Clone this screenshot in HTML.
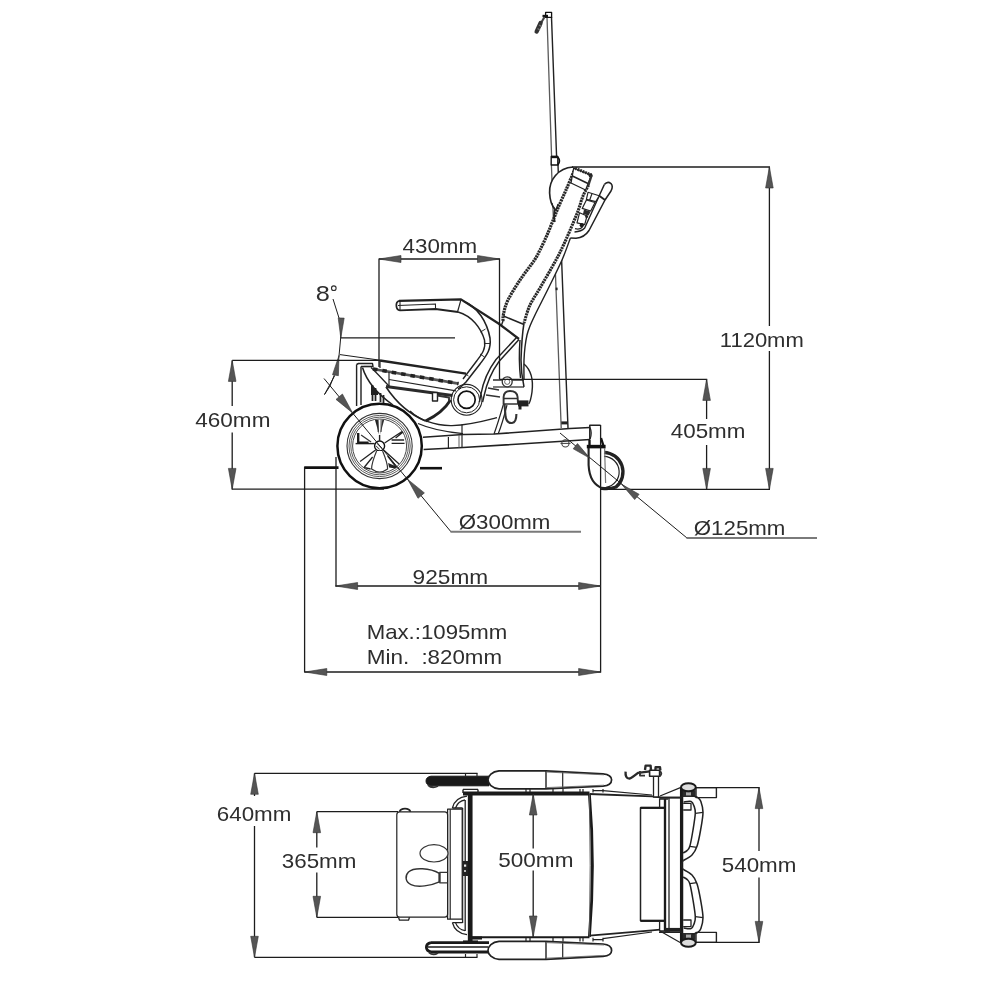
<!DOCTYPE html>
<html><head><meta charset="utf-8"><title>Dimensions</title>
<style>
html,body{margin:0;padding:0;background:#fff;}
body{width:1000px;height:1000px;overflow:hidden;font-family:"Liberation Sans",sans-serif;}
svg{display:block;will-change:transform;filter:grayscale(1);}
svg text{font-family:"Liberation Sans",sans-serif;}
</style></head><body>
<svg width="1000" height="1000" viewBox="0 0 1000 1000" stroke-linecap="butt" stroke-linejoin="round">
<rect width="1000" height="1000" fill="#fff"/>
<g id="side">
<polygon points="547,17 551.5,17 556.6,157 558,165 568,428 561.2,428 551.4,165 551.6,157" fill="#fff" stroke="none"/>
<path d="M547,17 L551.6,157 L551.4,165 L561.2,428" stroke="#5a5a5a" stroke-width="1.3" fill="none" />
<path d="M551.5,17 L556.6,157 L558,165 L568,428" stroke="#222" stroke-width="1.42" fill="none" />
<rect x="545.6" y="12.4" width="6" height="5" fill="#fff" stroke="#111" stroke-width="1.3"/>
<path d="M542.5,16 L548,16" stroke="#111" stroke-width="2.36" fill="none" />
<path d="M544.5,17 L541,23" stroke="#444" stroke-width="2.12" fill="none" />
<path d="M540.6,23 L536.6,31.6" stroke="#333" stroke-width="4.25" fill="none" stroke-linecap="round"/>
<path d="M539,25 L541.5,26.5 M537.5,28.5 L540,30" stroke="#777" stroke-width="1.42" fill="none" />
<rect x="551.2" y="156.5" width="6.6" height="8.5" fill="#fff" stroke="#111" stroke-width="1.3"/>
<path d="M557.8,157 Q561,161 557.8,165" stroke="#111" stroke-width="1.65" fill="none" />
<line x1="551.2" y1="157" x2="557.8" y2="157" stroke="#111" stroke-width="2.36" />
<rect x="555.6" y="287.6" width="2" height="2.6" fill="#222"/>
<rect x="561.3" y="421.4" width="6.4" height="3" fill="#222"/>
<circle cx="379.6" cy="446" r="42.2" fill="#fff" stroke="#111" stroke-width="2.5"/>
<circle cx="379.6" cy="446" r="32.6" fill="none" stroke="#333" stroke-width="1.1"/>
<circle cx="379.6" cy="446" r="30.6" fill="none" stroke="#333" stroke-width="0.8"/>
<circle cx="379.6" cy="446" r="28.8" fill="none" stroke="#333" stroke-width="0.8"/>
<circle cx="379.6" cy="446" r="27" fill="none" stroke="#333" stroke-width="0.9"/>
<circle cx="379.6" cy="446" r="5" fill="#fff" stroke="#111" stroke-width="1.4"/>
<path d="M377.1,443.5 L382.1,448.5 M376.1,446 L379.6,449.5" stroke="#444" stroke-width="1.06" fill="none" />
<path d="M379.6,441 L379.6,435" stroke="#222" stroke-width="1.42" fill="none" />
<polygon points="375.0,420 378.0,420 379.20000000000005,435" fill="#222"/>
<polygon points="384.20000000000005,420 382.20000000000005,420 380.0,435" fill="#333"/>
<path d="M378.1,420 L378.1,432 M381.1,420 L381.1,432" stroke="#333" stroke-width="0.94" fill="none" />
<path d="M384.6,443 L402.1,431.5 M391.6,443.4 L404.6,443.4 M391.6,440 L404.1,440 M395.6,438 L403.1,432" stroke="#222" stroke-width="1.3" fill="none" />
<path d="M374.6,443.6 L355.6,443.6" stroke="#222" stroke-width="1.42" fill="none" />
<path d="M358.20000000000005,433 L358.20000000000005,442.6 L368.6,442.6" stroke="#1a1a1a" stroke-width="2.36" fill="none" />
<path d="M361.1,435 L371.1,442" stroke="#333" stroke-width="1.18" fill="none" />
<path d="M383.6,450 L399.1,464 M387.6,456 L396.6,467.5" stroke="#222" stroke-width="1.3" fill="none" />
<polygon points="388.1,463 396.6,466.6 395.6,468.6 389.1,467.5" fill="#222"/>
<path d="M375.6,450 L360.1,461.5 M372.6,457 L364.1,467.5 M364.1,467.5 L370.6,469" stroke="#222" stroke-width="1.3" fill="none" />
<path d="M376.6,451 Q371.6,463 371.6,469 Q379.6,475 387.6,469 Q387.6,463 382.6,451" stroke="#333" stroke-width="1.18" fill="#fff" />
<line x1="304.2" y1="467.6" x2="338.5" y2="467.6" stroke="#111" stroke-width="2.83" />
<line x1="420" y1="468.2" x2="442" y2="468.2" stroke="#111" stroke-width="2.6" />
<path d="M356.6,406 L356.6,364.5 M361,405 L361,366.5 M356.6,364.5 L358.5,363.5 L372.5,363.5 L373,366.5 L361,366.5" stroke="#222" stroke-width="1.42" fill="none" />
<path d="M372.5,385 L372.5,401 M375.5,388 L375.5,401 M380.5,393 L380.5,402 M383.5,395 L383.5,403" stroke="#222" stroke-width="1.77" fill="none" />
<polygon points="371,384 378,392 378,395 371,395" fill="#222"/>
<path d="M362.5,367.5 C366,379 376,393 393,405" stroke="#222" stroke-width="1.53" fill="none" />
<path d="M371,367.5 C378,374 384,381 389,386" stroke="#222" stroke-width="1.3" fill="none" />
<path d="M364,366.5 L373,366.5" stroke="#222" stroke-width="1.18" fill="none" />
<path d="M386,387 C392,396 404,412 425.5,421" stroke="#222" stroke-width="1.53" fill="none" />
<path d="M425.5,421 C436,416 445,409 450.5,400" stroke="#222" stroke-width="2.83" fill="none" />
<path d="M410,411 C418,419 434,426 452,425.6 C470,425 484,421 497,417.6" stroke="#222" stroke-width="1.42" fill="none" />
<path d="M418,423.5 C428,428 446,432 463,433.6" stroke="#222" stroke-width="1.3" fill="none" />
<line x1="380" y1="360.5" x2="466" y2="373.6" stroke="#222" stroke-width="2.36" />
<line x1="373" y1="369" x2="458.5" y2="383.6" stroke="#555" stroke-width="2.6" />
<line x1="373" y1="369" x2="458.5" y2="383.6" stroke="#222" stroke-width="3.54" stroke-dasharray="4.5 5"/>
<line x1="389" y1="379.5" x2="456" y2="390.8" stroke="#222" stroke-width="1.18" />
<line x1="386" y1="386.6" x2="452.5" y2="395.6" stroke="#2a2a2a" stroke-width="3.07" />
<line x1="389" y1="372" x2="389" y2="386" stroke="#222" stroke-width="1.18" />
<line x1="380" y1="361" x2="380" y2="368" stroke="#222" stroke-width="1.18" />
<rect x="432.5" y="392.5" width="5" height="8.5" fill="#fff" stroke="#222" stroke-width="1.4"/>
<path d="M437,395.5 L449,397.5 L449,401" stroke="#333" stroke-width="1.89" fill="none" />
<path d="M423,437.2 L463,434.6 L494,434 L570,428.6 L590,427.6" stroke="#222" stroke-width="1.53" fill="none" />
<path d="M423.6,449.6 L463,447.6 L590,439.6" stroke="#222" stroke-width="1.53" fill="none" />
<line x1="448.4" y1="437" x2="448.4" y2="448.4" stroke="#222" stroke-width="1.18" />
<line x1="462" y1="424.6" x2="462" y2="447.6" stroke="#222" stroke-width="1.18" />
<line x1="459" y1="434.8" x2="459" y2="447.8" stroke="#555" stroke-width="0.94" />
<path d="M503.5,404 C500,416 497,426 494,434 M507,405 C504,417 501,427 498.2,433.8" stroke="#222" stroke-width="1.18" fill="none" />
<path d="M399,300.8 Q396,302 396.4,306 Q396.6,310 400,310.4 L435.5,309 L458,312" stroke="#222" stroke-width="1.77" fill="none" />
<path d="M399,300.8 L461,299.4 L498.5,323.5 L519,339" stroke="#222" stroke-width="2.24" fill="none" />
<path d="M398,305.5 L436,304 M435.5,304 L435.5,309 M400,301 L400,310" stroke="#222" stroke-width="1.06" fill="none" />
<path d="M461,299.6 L457.5,312" stroke="#222" stroke-width="1.18" fill="none" />
<path d="M463,301 C478,307 487,322 490,338 C491.5,350 486,356 480,364 L466,382 C462,386 460,388 458,389" stroke="#222" stroke-width="1.53" fill="none" />
<path d="M458,312 C472,316 481,328 484.5,340 C486,349 482,354 477,360.5 L463,379" stroke="#222" stroke-width="1.42" fill="none" />
<path d="M485.5,329 L480.5,332 M490,343.5 L485,343.5 M484.5,357 L480,354 M468.5,376 L465,373.5" stroke="#222" stroke-width="0.94" fill="none" />
<path d="M519,339.5 L499,361.5 C492,371 487,382 484,396 L482.6,402" stroke="#222" stroke-width="1.42" fill="none" />
<path d="M516.5,337.5 L496,359.5 C489,369 483.5,380 481,394 L479.4,402" stroke="#222" stroke-width="1.42" fill="none" />
<circle cx="466.6" cy="399.8" r="15.4" fill="none" stroke="#222" stroke-width="1.1"/>
<circle cx="466.6" cy="399.8" r="13" fill="none" stroke="#222" stroke-width="1.0"/>
<circle cx="466.6" cy="399.8" r="8.6" fill="#fff" stroke="#111" stroke-width="1.7"/>
<path d="M574.0,171.0 C572.7,174.2 568.7,183.8 566.0,190.0 C563.3,196.2 560.0,203.3 558.0,208.0 C556.0,212.7 555.8,213.7 554.0,218.0 C552.2,222.3 549.8,228.7 547.5,234.0 C545.2,239.3 542.2,245.7 540.0,250.0 C537.8,254.3 537.8,255.0 534.5,260.0 C531.2,265.0 524.4,273.3 520.0,280.0 C515.6,286.7 510.8,294.3 508.0,300.0 C505.2,305.7 504.3,310.5 503.5,314.0 C502.7,317.5 503.1,319.8 503.0,321.0 L524,324.5 L527,335 L527,335 L530,326 L535,315 L542,301 L550,285 L562,260 L570.4,238 L571,228 L578,211 L583,196 L588.6,185 Z" stroke="none" stroke-width="0.0" fill="#fff" />
<path d="M573,167 C558,168 549,180 549.6,193 C550,202 552,206 555,209 L556,216 L574,171 Z" stroke="none" stroke-width="0.0" fill="#fff" />
<path d="M574.0,171.0 C572.7,174.2 568.7,183.8 566.0,190.0 C563.3,196.2 560.0,203.3 558.0,208.0 C556.0,212.7 555.8,213.7 554.0,218.0 C552.2,222.3 549.8,228.7 547.5,234.0 C545.2,239.3 542.2,245.7 540.0,250.0 C537.8,254.3 537.8,255.0 534.5,260.0 C531.2,265.0 524.4,273.3 520.0,280.0 C515.6,286.7 510.8,294.3 508.0,300.0 C505.2,305.7 504.3,310.5 503.5,314.0 C502.7,317.5 503.1,319.8 503.0,321.0" stroke="#2a2a2a" stroke-width="3.19" fill="none" stroke-dasharray="2.1 0.7"/>
<path d="M588.6,185.0 C587.7,186.8 584.8,191.7 583.0,196.0 C581.2,200.3 580.0,205.7 578.0,211.0 C576.0,216.3 573.4,222.3 571.0,228.0 C568.6,233.7 566.0,239.7 563.5,245.0 C561.0,250.3 559.9,252.8 556.0,260.0 C552.1,267.2 544.3,280.5 540.0,288.0 C535.7,295.5 532.7,299.2 530.0,305.0 C527.3,310.8 525.0,320.0 524.0,323.0" stroke="#2a2a2a" stroke-width="3.07" fill="none" stroke-dasharray="2.1 0.7"/>
<path d="M570.4,238.0 C569.0,241.7 565.4,252.2 562.0,260.0 C558.6,267.8 553.3,278.2 550.0,285.0 C546.7,291.8 544.5,296.0 542.0,301.0 C539.5,306.0 537.0,310.8 535.0,315.0 C533.0,319.2 531.3,322.7 530.0,326.0 C528.7,329.3 527.8,331.5 527.0,335.0 C526.2,338.5 525.5,342.8 525.0,347.0 C524.5,351.2 524.2,354.5 524.0,360.0 C523.8,365.5 524.0,376.7 524.0,380.0" stroke="#222" stroke-width="1.42" fill="none" />
<path d="M503.5,316 L524,324.5" stroke="#222" stroke-width="1.42" fill="none" />
<path d="M503,321 L501.5,325" stroke="#222" stroke-width="1.42" fill="none" />
<path d="M524,323 C522.5,332 521.5,345 521,360 C521,370 522.5,380 524,387" stroke="#222" stroke-width="1.53" fill="none" />
<path d="M520,340 C519,352 519,364 520.5,378" stroke="#222" stroke-width="1.42" fill="none" />
<path d="M524,364 C531,370 533.5,380 532,392 C531,399 530,402 528.8,404" stroke="#222" stroke-width="1.42" fill="none" />
<path d="M573,167 C558,168 549,180 549.6,193 C550,202 552,206 555,209 C554,214 553.5,218 555,222" stroke="#222" stroke-width="1.65" fill="none" />
<path d="M552,203 Q553,209 556,210 L558,204" stroke="#222" stroke-width="1.18" fill="none" />
<polygon points="573.7,168 591.5,175 585.6,190 571,183" fill="#fff" stroke="#222" stroke-width="1.3"/>
<path d="M572.4,176 L589,184" stroke="#222" stroke-width="1.53" fill="none" />
<path d="M575,168.3 L591.5,175" stroke="#2a2a2a" stroke-width="3.07" fill="none" stroke-dasharray="1.9 0.8"/>
<circle cx="590.6" cy="175.6" r="2" fill="#222"/>
<path d="M591.5,175.5 L588.5,185" stroke="#333" stroke-width="2.36" fill="none" />
<path d="M604.3,184.6 Q607.5,180.8 611,183.6 Q613.5,186.5 611,191 L605,200 L589,230.5 Q584.5,237.5 576,238.2 L570.3,238" stroke="#222" stroke-width="1.53" fill="none" />
<path d="M604.3,184.6 L599.2,195.7 L584.7,228 Q581.5,231.5 574.5,232" stroke="#222" stroke-width="1.42" fill="none" />
<path d="M599.2,195.7 L605,200" stroke="#222" stroke-width="1.89" fill="none" />
<polygon points="588,192.3 599.2,195.7 595.8,201.6 586.4,199.4" fill="#fff" stroke="#222" stroke-width="1.2"/>
<path d="M592,193.6 L589.6,200.2" stroke="#222" stroke-width="1.18" fill="none" />
<polygon points="586.4,200 595,202.5 590.7,211 582.2,208.4" fill="#fff" stroke="#222" stroke-width="1.2"/>
<polygon points="584,209.4 590.6,211.4 588.6,215.6 583,214" fill="#2a2a2a"/>
<polygon points="579.6,212.7 587,216 584.7,224.6 577,222.9" fill="#fff" stroke="#222" stroke-width="1.2"/>
<circle cx="586.6" cy="216.4" r="1.5" fill="#222"/><circle cx="581.8" cy="225.2" r="2.1" fill="#1a1a1a"/>
<path d="M575,228.6 Q579.5,230 582.5,227" stroke="#222" stroke-width="1.3" fill="none" />
<line x1="493" y1="380" x2="524" y2="380" stroke="#222" stroke-width="1.42" />
<line x1="493" y1="387" x2="524" y2="387" stroke="#222" stroke-width="1.18" />
<circle cx="507.2" cy="381.8" r="5" fill="#fff" stroke="#333" stroke-width="1.3"/>
<circle cx="507.2" cy="381.8" r="2.6" fill="none" stroke="#555" stroke-width="0.9"/>
<path d="M488,388 L499,390 M486,395 L500,397" stroke="#333" stroke-width="1.53" fill="none" />
<path d="M503.6,404 L503.6,397 Q504,391 510,391 Q517,391 517.6,397 L518,404" stroke="#333" stroke-width="1.89" fill="none" />
<path d="M504,398.5 L518,398.5 M504,404 L518,404" stroke="#333" stroke-width="1.3" fill="none" />
<path d="M504.5,404 L505.6,417 Q507,423.5 512,423 Q516.4,422.5 516.4,414" stroke="#333" stroke-width="2.12" fill="none" />
<rect x="518" y="400.4" width="10.5" height="6" fill="#222"/>
<rect x="518.5" y="406" width="3" height="3.5" fill="#222"/>
<path d="M589.8,439 L589.8,425.2 L600.6,425.2" stroke="#222" stroke-width="1.53" fill="none" />
<path d="M590,427.6 Q592.5,433 590,439.6" stroke="#222" stroke-width="1.18" fill="none" />
<line x1="586.8" y1="446.6" x2="605.6" y2="446.6" stroke="#111" stroke-width="3.54" />
<path d="M589.5,440 L589.5,446 M601,438 L603.5,446" stroke="#111" stroke-width="2.36" fill="none" />
<path d="M588.6,448 L588.6,465 Q589.5,484 603,488.4" stroke="#222" stroke-width="2.12" fill="none" />
<path d="M604,456.4 A15.6,15.6 0 0 1 606,487.4" stroke="#222" stroke-width="1.18" fill="none" />
<path d="M604,452.4 A19.6,19.6 0 0 1 616,487 Q610,489.2 602,488.4" stroke="#222" stroke-width="3.3" fill="none" />
<line x1="604.6" y1="448" x2="605.6" y2="483" stroke="#777" stroke-width="1.18" />
<circle cx="565.4" cy="443.4" r="3.6" fill="none" stroke="#444" stroke-width="1.1"/>
<line x1="560.5" y1="443.4" x2="570.5" y2="443.4" stroke="#444" stroke-width="1.06" />
</g>
<g id="topview">
<path d="M431,776.2 L489,776.2 L489,785.8 L431,785.8 Q426,785 426,781 Q426,777 431,776.2 Z" stroke="#111" stroke-width="0.94" fill="#1a1a1a" />
<path d="M428,785 Q432,789 438,786" stroke="#333" stroke-width="1.89" fill="none" />
<line x1="465.5" y1="773.3" x2="465.5" y2="776.2" stroke="#222" stroke-width="1.18" />
<line x1="477" y1="773.3" x2="477" y2="776.2" stroke="#222" stroke-width="1.18" />
<path d="M431,942.6 L489,942.6 M431,952 L489,952 M431,942.6 Q426.4,943.5 426.4,947.3 Q426.4,951 431,952" stroke="#1a1a1a" stroke-width="2.83" fill="none" />
<line x1="428" y1="947" x2="488" y2="947" stroke="#1a1a1a" stroke-width="1.65" />
<path d="M429,952.6 Q433,956 438,953" stroke="#333" stroke-width="1.65" fill="none" />
<line x1="465.5" y1="957.3" x2="465.5" y2="954" stroke="#222" stroke-width="1.18" />
<line x1="477" y1="957.3" x2="477" y2="954" stroke="#222" stroke-width="1.18" />
<path d="M499,770.8 L546,770.8 L603,773.8 C609,774.4 611.6,776.8 611.6,779.8 C611.6,782.8 609,785.5999999999999 603,786.1999999999999 L546,788.8 L499,788.8 C492,788.1999999999999 488,783.8 488,779.8 C488,775.8 492,771.4 499,770.8 Z" fill="#fff" stroke="#222" stroke-width="1.7"/>
<line x1="546" y1="770.8" x2="546" y2="788.8" stroke="#222" stroke-width="1.42" />
<line x1="562.7" y1="771.5999999999999" x2="562.7" y2="788.1999999999999" stroke="#222" stroke-width="1.18" />
<line x1="546" y1="772.0" x2="604" y2="774.8" stroke="#666" stroke-width="0.83" />
<line x1="546" y1="787.5999999999999" x2="604" y2="785.1999999999999" stroke="#666" stroke-width="0.83" />
<path d="M499,959.4 L546,959.4 L603,956.4 C609,955.8 611.6,953.4 611.6,950.4 C611.6,947.4 609,944.6 603,944.0 L546,941.4 L499,941.4 C492,942.0 488,946.4 488,950.4 C488,954.4 492,958.8 499,959.4 Z" fill="#fff" stroke="#222" stroke-width="1.7"/>
<line x1="546" y1="959.4" x2="546" y2="941.4" stroke="#222" stroke-width="1.42" />
<line x1="562.7" y1="958.6" x2="562.7" y2="942.0" stroke="#222" stroke-width="1.18" />
<line x1="546" y1="958.1999999999999" x2="604" y2="955.4" stroke="#666" stroke-width="0.83" />
<line x1="546" y1="942.6" x2="604" y2="945.0" stroke="#666" stroke-width="0.83" />
<path d="M526,789 L526,792.6 M530,789 L530,792.6" stroke="#222" stroke-width="1.18" fill="none" />
<path d="M526,941.4 L526,937.8 M530,941.4 L530,937.8" stroke="#222" stroke-width="1.18" fill="none" />
<path d="M553,789 L553,792.6 M563,789 L563,792.6" stroke="#222" stroke-width="1.18" fill="none" />
<path d="M553,941.4 L553,937.8 M563,941.4 L563,937.8" stroke="#222" stroke-width="1.18" fill="none" />
<path d="M580,789 L580,792.6 M583,789 L583,792.6" stroke="#222" stroke-width="1.18" fill="none" />
<path d="M580,941.4 L580,937.8 M583,941.4 L583,937.8" stroke="#222" stroke-width="1.18" fill="none" />
<path d="M593,789 L593,792.6 M603,789 L603,792.6" stroke="#222" stroke-width="1.18" fill="none" />
<path d="M593,941.4 L593,937.8 M603,941.4 L603,937.8" stroke="#222" stroke-width="1.18" fill="none" />
<path d="M593,790.6 L603,790.6 M593,939.6 L603,939.6" stroke="#222" stroke-width="1.18" fill="none" />
<rect x="470" y="794" width="119" height="143" fill="#fff" stroke="none"/>
<line x1="463" y1="793.6" x2="589.5" y2="793.6" stroke="#1a1a1a" stroke-width="4.01" />
<line x1="470.2" y1="792" x2="470.2" y2="941" stroke="#1a1a1a" stroke-width="4.72" />
<line x1="470" y1="937.2" x2="589.5" y2="937.2" stroke="#1a1a1a" stroke-width="1.89" />
<line x1="470" y1="938" x2="482" y2="938" stroke="#1a1a1a" stroke-width="3.07" />
<path d="M463,789.4 L478,789.4 M463,789.4 L463,793 M478,789.4 L478,793" stroke="#222" stroke-width="1.42" fill="none" />
<path d="M463,941.6 L478,941.6" stroke="#1a1a1a" stroke-width="2.36" fill="none" />
<path d="M462.6,808 L462.6,923 M465.2,800 L465.2,931" stroke="#222" stroke-width="1.3" fill="none" />
<path d="M452.4,808 Q455,797.5 467,796.2 M455.5,808 Q458,801 465,800" stroke="#222" stroke-width="1.3" fill="none" />
<path d="M452.4,922.6 Q455,933 467,934.6 M455.5,922.6 Q458,929.5 465,930.6" stroke="#222" stroke-width="1.3" fill="none" />
<rect x="462.4" y="861" width="5.8" height="15" fill="#222"/>
<rect x="464" y="864.5" width="2.2" height="2.2" fill="#eee"/><rect x="464" y="870" width="2" height="2" fill="#bbb"/>
<path d="M452.4,808 L462.6,808 M452.4,922.6 L462.6,922.6" stroke="#222" stroke-width="1.3" fill="none" />
<rect x="447.6" y="809.2" width="14.6" height="110" fill="#fff" stroke="#222" stroke-width="1.2"/>
<line x1="450.2" y1="809.2" x2="450.2" y2="919.2" stroke="#222" stroke-width="1.18" />
<rect x="396.8" y="811.8" width="50.8" height="105.4" rx="3" ry="3" fill="#fff" stroke="#222" stroke-width="1.2"/>
<path d="M399.5,811.8 Q400.5,808.6 405,808.6 Q409.5,808.6 410.5,811.8" stroke="#222" stroke-width="1.65" fill="none" />
<path d="M398.5,917.2 L399.5,920.2 L408.5,920.2 L409.5,917.2" stroke="#222" stroke-width="1.3" fill="none" />
<ellipse cx="434" cy="853.3" rx="14" ry="8.7" fill="#fff" stroke="#333" stroke-width="1.2"/>
<path d="M439.4,873.4 C430,868 414,867 408.5,872 C404.5,876 405.5,882 411,884.6 C418,888 431,885.6 439.4,881.8 Z" stroke="#333" stroke-width="1.42" fill="#fff" />
<path d="M439.4,872.4 L447.6,872.4 M439.4,882.8 L447.6,882.8" stroke="#333" stroke-width="1.3" fill="none" />
<line x1="439.6" y1="872.4" x2="439.6" y2="882.8" stroke="#333" stroke-width="2.12" />
<path d="M589.4,794 Q595.4,865.5 589.4,937" stroke="#1a1a1a" stroke-width="2.83" fill="none" />
<path d="M589.4,794 Q591,865 589.4,937" stroke="#555" stroke-width="0.94" fill="none" />
<path d="M589.5,794 L652,796.4 L660,797.4" stroke="#222" stroke-width="1.77" fill="none" />
<path d="M603,790.6 L652,795" stroke="#222" stroke-width="1.06" fill="none" />
<path d="M589.5,935.6 L652,930.4 L660,929.6" stroke="#222" stroke-width="1.77" fill="none" />
<path d="M603,938.6 L652,932" stroke="#222" stroke-width="1.06" fill="none" />
<rect x="640.5" y="807.8" width="24.5" height="113" fill="#fff" stroke="#222" stroke-width="1.5"/>
<line x1="640.5" y1="807.8" x2="665" y2="807.8" stroke="#1a1a1a" stroke-width="2.24" />
<line x1="640.5" y1="920.8" x2="665" y2="920.8" stroke="#1a1a1a" stroke-width="2.24" />
<line x1="665" y1="799" x2="665" y2="931" stroke="#1a1a1a" stroke-width="2.36" />
<path d="M669,797.6 L669,933 M659.6,799 L668,799 M659.6,799 L659.6,808 M659.6,931 L668,931 M659.6,931 L659.6,921" stroke="#222" stroke-width="1.3" fill="none" />
<line x1="681.6" y1="788" x2="681.6" y2="942" stroke="#1a1a1a" stroke-width="3.3" />
<line x1="659" y1="797.6" x2="682" y2="797.6" stroke="#222" stroke-width="2.12" />
<line x1="659" y1="932.2" x2="682" y2="932.2" stroke="#222" stroke-width="1.65" />
<line x1="665" y1="929.8" x2="681" y2="929.8" stroke="#222" stroke-width="3.78" />
<path d="M660,796 L681,787.4 M660,931 L681,943" stroke="#222" stroke-width="1.18" fill="none" />
<rect x="696" y="787.6" width="20.4" height="10" fill="#fff" stroke="#222" stroke-width="1.4"/>
<rect x="682.6" y="790.2" width="13" height="6.8" fill="#2a2a2a"/>
<rect x="686" y="792.2" width="5" height="3.2" fill="#aaa"/>
<ellipse cx="688.4" cy="787.2" rx="7.4" ry="4" fill="#ddd" stroke="#1a1a1a" stroke-width="2"/>
<rect x="696" y="932.4" width="20.4" height="10" fill="#fff" stroke="#222" stroke-width="1.4"/>
<rect x="682.6" y="933.0" width="13" height="6.8" fill="#2a2a2a"/>
<rect x="686" y="934.6" width="5" height="3.2" fill="#aaa"/>
<ellipse cx="688.4" cy="942.8" rx="7.4" ry="4" fill="#ddd" stroke="#1a1a1a" stroke-width="2"/>
<path d="M692.0,795.7 C692.9,796.0 696.0,796.5 697.5,797.4 C699.0,798.3 699.9,798.7 700.8,801.2 C701.7,803.7 703.0,807.4 703.0,812.2 C703.0,817.0 701.6,824.3 700.6,830.0 C699.6,835.7 698.4,842.1 697.0,846.3 C695.6,850.5 694.3,852.6 692.0,855.0 C689.7,857.4 684.7,859.7 683.2,860.6" stroke="#222" stroke-width="1.53" fill="none" />
<path d="M683.6,802.0 C684.8,801.9 689.3,800.7 691.0,801.4 C692.7,802.1 693.3,804.0 694.0,806.0 C694.7,808.0 695.5,809.3 695.3,813.3 C695.1,817.3 693.9,824.5 693.0,830.0 C692.1,835.5 690.8,842.9 689.8,846.3 C688.8,849.7 688.1,849.5 687.0,850.6 C685.9,851.7 683.8,852.6 683.2,853.0" stroke="#222" stroke-width="1.53" fill="none" />
<path d="M692.0,934.3 C692.9,934.0 696.0,933.5 697.5,932.6 C699.0,931.7 699.9,931.3 700.8,928.8 C701.7,926.3 703.0,922.6 703.0,917.8 C703.0,913.0 701.6,905.7 700.6,900.0 C699.6,894.3 698.4,887.9 697.0,883.7 C695.6,879.5 694.3,877.4 692.0,875.0 C689.7,872.6 684.7,870.3 683.2,869.4" stroke="#222" stroke-width="1.53" fill="none" />
<path d="M683.6,928.0 C684.8,928.1 689.3,929.3 691.0,928.6 C692.7,927.9 693.3,926.0 694.0,924.0 C694.7,922.0 695.5,920.7 695.3,916.7 C695.1,912.7 693.9,905.5 693.0,900.0 C692.1,894.5 690.8,887.1 689.8,883.7 C688.8,880.3 688.1,880.5 687.0,879.4 C685.9,878.3 683.8,877.4 683.2,877.0" stroke="#222" stroke-width="1.53" fill="none" />
<path d="M683.2,803.4 L691,803.4 L691,810 L683.2,810 M683.2,926.6 L691,926.6 L691,920 L683.2,920" stroke="#222" stroke-width="1.3" fill="none" />
<path d="M695.3,813.3 L703,812.4 M689.8,846.3 L697,847.4 M695.3,916.7 L703,917.6 M689.8,883.7 L697,882.6" stroke="#222" stroke-width="1.18" fill="none" />
<path d="M683.2,860.6 Q681.4,863 681.4,865 Q681.4,867 683.2,869.4" stroke="#222" stroke-width="1.3" fill="none" />
<rect x="653.5" y="776" width="5" height="21" fill="#fff" stroke="#222" stroke-width="1.3"/>
<path d="M625.6,771.6 Q625,778.4 629.4,778.6 Q632,777.6 638,772.8 L650,771.4" stroke="#2a2a2a" stroke-width="2.36" fill="none" />
<rect x="649.6" y="770.2" width="10" height="6" fill="#fff" stroke="#222" stroke-width="1.6"/>
<path d="M645,770 L645.6,765.6 L650.6,765.6 L651,770 M655.4,770 L655.6,767.2 L660,767.2 L660.4,770.4" stroke="#2a2a2a" stroke-width="2.36" fill="none" />
<path d="M659.6,771 Q663,773.5 659.6,776.4 M640,771 L640,775.6 L645,775.6" stroke="#333" stroke-width="1.89" fill="none" />
</g>
<g id="dims">
<line x1="379" y1="259" x2="499.5" y2="259" stroke="#1c1c1c" stroke-width="1.3" />
<line x1="379" y1="258.4" x2="379" y2="367" stroke="#1c1c1c" stroke-width="1.3" />
<line x1="499.5" y1="258.4" x2="499.5" y2="379" stroke="#1c1c1c" stroke-width="1.3" />
<polygon points="379.0,259.0 401.0,262.5 401.0,255.5" fill="#555" stroke="#333" stroke-width="0.6"/>
<polygon points="499.5,259.0 477.5,255.5 477.5,262.5" fill="#555" stroke="#333" stroke-width="0.6"/>
<text x="402.5" y="252.6" font-size="21" fill="#2e2e2e" text-anchor="start" textLength="74.6" lengthAdjust="spacingAndGlyphs">430mm</text>
<text x="315.8" y="301.4" font-size="21.5" fill="#2e2e2e" text-anchor="start" textLength="14.1" lengthAdjust="spacingAndGlyphs">8</text>
<circle cx="333.8" cy="288.2" r="2.3" fill="none" stroke="#2e2e2e" stroke-width="1.1"/>
<line x1="333" y1="299" x2="339" y2="318" stroke="#1c1c1c" stroke-width="1.0" />
<path d="M341,318 Q341.5,337 339,356 Q337,372 330,386 L324.5,394.5" stroke="#1c1c1c" stroke-width="1.0" fill="none" />
<polygon points="340.8,338.0 344.2,318.1 338.2,317.9" fill="#555" stroke="#333" stroke-width="0.6"/>
<polygon points="339.0,355.5 332.5,374.7 338.4,375.7" fill="#555" stroke="#333" stroke-width="0.6"/>
<line x1="340.5" y1="337.8" x2="455" y2="337.8" stroke="#1c1c1c" stroke-width="1.3" />
<line x1="340" y1="354.6" x2="380" y2="360.2" stroke="#1c1c1c" stroke-width="1.0" />
<line x1="232.2" y1="360.4" x2="380" y2="360.4" stroke="#1c1c1c" stroke-width="1.3" />
<line x1="232.2" y1="489.2" x2="384" y2="489.2" stroke="#1c1c1c" stroke-width="1.3" />
<line x1="232.2" y1="360.4" x2="232.2" y2="406" stroke="#1c1c1c" stroke-width="1.3" />
<line x1="232.2" y1="432.5" x2="232.2" y2="489.4" stroke="#1c1c1c" stroke-width="1.3" />
<polygon points="232.2,360.4 228.4,381.4 236.0,381.4" fill="#555" stroke="#333" stroke-width="0.6"/>
<polygon points="232.2,489.4 236.0,468.4 228.4,468.4" fill="#555" stroke="#333" stroke-width="0.6"/>
<text x="195.3" y="427.1" font-size="21" fill="#2e2e2e" text-anchor="start" textLength="75.1" lengthAdjust="spacingAndGlyphs">460mm</text>
<line x1="572" y1="167" x2="770" y2="167" stroke="#1c1c1c" stroke-width="1.3" />
<line x1="769.4" y1="167" x2="769.4" y2="326" stroke="#1c1c1c" stroke-width="1.3" />
<line x1="769.4" y1="351" x2="769.4" y2="489.4" stroke="#1c1c1c" stroke-width="1.3" />
<polygon points="769.4,167.0 765.6,188.0 773.2,188.0" fill="#555" stroke="#333" stroke-width="0.6"/>
<polygon points="769.4,489.4 773.2,468.4 765.6,468.4" fill="#555" stroke="#333" stroke-width="0.6"/>
<text x="719.8" y="347.4" font-size="21" fill="#2e2e2e" text-anchor="start" textLength="84.0" lengthAdjust="spacingAndGlyphs">1120mm</text>
<line x1="499.5" y1="379.4" x2="707.2" y2="379.4" stroke="#1c1c1c" stroke-width="1.3" />
<line x1="706.6" y1="379.4" x2="706.6" y2="419" stroke="#1c1c1c" stroke-width="1.3" />
<line x1="706.6" y1="445" x2="706.6" y2="489.4" stroke="#1c1c1c" stroke-width="1.3" />
<polygon points="706.6,379.4 702.8,400.4 710.4,400.4" fill="#555" stroke="#333" stroke-width="0.6"/>
<polygon points="706.6,489.4 710.4,468.4 702.8,468.4" fill="#555" stroke="#333" stroke-width="0.6"/>
<text x="670.8" y="438.4" font-size="21" fill="#2e2e2e" text-anchor="start" textLength="74.6" lengthAdjust="spacingAndGlyphs">405mm</text>
<line x1="600" y1="489.4" x2="770" y2="489.4" stroke="#1c1c1c" stroke-width="1.3" />
<line x1="324" y1="378.5" x2="451" y2="531.8" stroke="#1c1c1c" stroke-width="1.0" />
<line x1="324.5" y1="394.5" x2="334.5" y2="376" stroke="#1c1c1c" stroke-width="1.0" />
<polygon points="352.6,412.9 342.4,394.0 336.0,399.4" fill="#555" stroke="#333" stroke-width="0.6"/>
<polygon points="407.8,479.4 418.0,498.3 424.4,492.9" fill="#555" stroke="#333" stroke-width="0.6"/>
<line x1="450.5" y1="531.8" x2="581" y2="531.8" stroke="#7a7a7a" stroke-width="2.0" />
<text x="458.8" y="529.0" font-size="21" fill="#2e2e2e" text-anchor="start" textLength="91.6" lengthAdjust="spacingAndGlyphs">Ø300mm</text>
<line x1="560" y1="433" x2="687" y2="538" stroke="#1c1c1c" stroke-width="1.0" />
<polygon points="590.0,458.3 577.5,443.6 573.2,448.8" fill="#555" stroke="#333" stroke-width="0.6"/>
<polygon points="621.5,484.2 634.7,499.6 639.1,494.3" fill="#555" stroke="#333" stroke-width="0.6"/>
<line x1="686.5" y1="538" x2="817" y2="538" stroke="#7a7a7a" stroke-width="2.0" />
<text x="693.8" y="535.4" font-size="21" fill="#2e2e2e" text-anchor="start" textLength="91.6" lengthAdjust="spacingAndGlyphs">Ø125mm</text>
<line x1="335.6" y1="586" x2="600.6" y2="586" stroke="#1c1c1c" stroke-width="1.3" />
<line x1="336" y1="457" x2="336" y2="586.6" stroke="#1c1c1c" stroke-width="1.3" />
<line x1="600.6" y1="425" x2="600.6" y2="672.6" stroke="#1c1c1c" stroke-width="1.3" />
<polygon points="335.6,586.0 357.6,589.5 357.6,582.5" fill="#555" stroke="#333" stroke-width="0.6"/>
<polygon points="600.6,586.0 578.6,582.5 578.6,589.5" fill="#555" stroke="#333" stroke-width="0.6"/>
<text x="412.6" y="584.2" font-size="21" fill="#2e2e2e" text-anchor="start" textLength="75.6" lengthAdjust="spacingAndGlyphs">925mm</text>
<line x1="304.8" y1="672" x2="600.6" y2="672" stroke="#1c1c1c" stroke-width="1.3" />
<line x1="304.6" y1="467" x2="304.6" y2="672.6" stroke="#1c1c1c" stroke-width="1.3" />
<polygon points="304.8,672.0 326.8,675.5 326.8,668.5" fill="#555" stroke="#333" stroke-width="0.6"/>
<polygon points="600.6,672.0 578.6,668.5 578.6,675.5" fill="#555" stroke="#333" stroke-width="0.6"/>
<text x="366.7" y="639.4" font-size="21" fill="#2e2e2e" text-anchor="start" textLength="140.6" lengthAdjust="spacingAndGlyphs">Max.:1095mm</text>
<text x="366.7" y="664.4" font-size="21" fill="#2e2e2e" text-anchor="start" textLength="42.6" lengthAdjust="spacingAndGlyphs">Min.</text>
<text x="421.4" y="664.4" font-size="21" fill="#2e2e2e" text-anchor="start" textLength="80.6" lengthAdjust="spacingAndGlyphs">:820mm</text>
<line x1="254.5" y1="773.3" x2="477.5" y2="773.3" stroke="#1c1c1c" stroke-width="1.3" />
<line x1="254.5" y1="957.3" x2="477.5" y2="957.3" stroke="#1c1c1c" stroke-width="1.3" />
<line x1="254.5" y1="773.3" x2="254.5" y2="796" stroke="#1c1c1c" stroke-width="1.3" />
<line x1="254.5" y1="826" x2="254.5" y2="957.3" stroke="#1c1c1c" stroke-width="1.3" />
<polygon points="254.5,773.3 250.7,794.3 258.3,794.3" fill="#555" stroke="#333" stroke-width="0.6"/>
<polygon points="254.5,957.3 258.3,936.3 250.7,936.3" fill="#555" stroke="#333" stroke-width="0.6"/>
<text x="216.8" y="821.2" font-size="21" fill="#2e2e2e" text-anchor="start" textLength="74.6" lengthAdjust="spacingAndGlyphs">640mm</text>
<line x1="316.8" y1="811.7" x2="398" y2="811.7" stroke="#1c1c1c" stroke-width="1.3" />
<line x1="316.8" y1="917.3" x2="398" y2="917.3" stroke="#1c1c1c" stroke-width="1.3" />
<line x1="316.8" y1="811.7" x2="316.8" y2="847.5" stroke="#1c1c1c" stroke-width="1.3" />
<line x1="316.8" y1="872.5" x2="316.8" y2="917.3" stroke="#1c1c1c" stroke-width="1.3" />
<polygon points="316.8,811.7 313.0,832.7 320.6,832.7" fill="#555" stroke="#333" stroke-width="0.6"/>
<polygon points="316.8,917.3 320.6,896.3 313.0,896.3" fill="#555" stroke="#333" stroke-width="0.6"/>
<text x="281.8" y="867.9" font-size="21" fill="#2e2e2e" text-anchor="start" textLength="74.6" lengthAdjust="spacingAndGlyphs">365mm</text>
<line x1="533.2" y1="794" x2="533.2" y2="848.5" stroke="#1c1c1c" stroke-width="1.3" />
<line x1="533.2" y1="870.5" x2="533.2" y2="937" stroke="#1c1c1c" stroke-width="1.3" />
<polygon points="533.2,794.0 529.4,815.0 537.0,815.0" fill="#555" stroke="#333" stroke-width="0.6"/>
<polygon points="533.2,937.0 537.0,916.0 529.4,916.0" fill="#555" stroke="#333" stroke-width="0.6"/>
<text x="498.3" y="867.4" font-size="21" fill="#2e2e2e" text-anchor="start" textLength="75.1" lengthAdjust="spacingAndGlyphs">500mm</text>
<line x1="697" y1="787.6" x2="759.6" y2="787.6" stroke="#1c1c1c" stroke-width="1.3" />
<line x1="697" y1="942.4" x2="759.6" y2="942.4" stroke="#1c1c1c" stroke-width="1.3" />
<line x1="759" y1="787.6" x2="759" y2="851" stroke="#1c1c1c" stroke-width="1.3" />
<line x1="759" y1="877.5" x2="759" y2="942.4" stroke="#1c1c1c" stroke-width="1.3" />
<polygon points="759.0,787.6 755.2,808.6 762.8,808.6" fill="#555" stroke="#333" stroke-width="0.6"/>
<polygon points="759.0,942.4 762.8,921.4 755.2,921.4" fill="#555" stroke="#333" stroke-width="0.6"/>
<text x="721.8" y="872.2" font-size="21" fill="#2e2e2e" text-anchor="start" textLength="74.6" lengthAdjust="spacingAndGlyphs">540mm</text>
</g>
</svg>
</body></html>
